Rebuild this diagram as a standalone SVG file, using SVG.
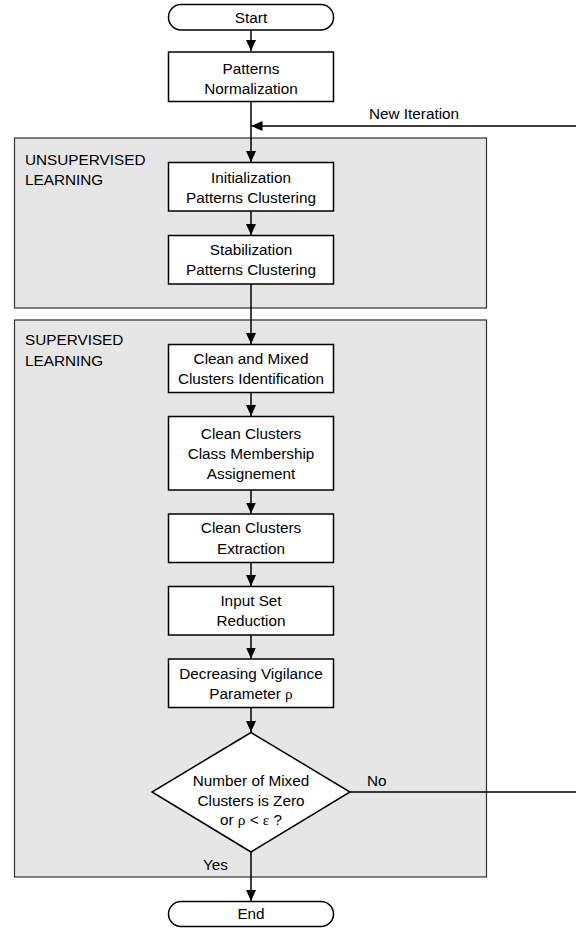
<svg xmlns="http://www.w3.org/2000/svg" width="576" height="928" viewBox="0 0 576 928">
<style>
text{font-family:"Liberation Sans",Arial,sans-serif;font-size:15.3px;fill:#000}
.c{text-anchor:middle}
.panel{fill:#e6e6e6;stroke:#333;stroke-width:1.2}
.box{fill:#fff;stroke:#000;stroke-width:1.5}
.conn{fill:none;stroke:#000;stroke-width:1.5}
.g{font-family:"Liberation Serif","Times New Roman",serif}
</style>
<defs>
<marker id="ah" markerUnits="userSpaceOnUse" markerWidth="12" markerHeight="12" viewBox="0 0 12 12" refX="11" refY="6" orient="auto">
<path d="M0,1 L11,6 L0,11 Z" fill="#000"/>
</marker>
</defs>
<g id="panel-unsupervised">
<rect class="panel" x="14.5" y="138" width="472" height="170"/>
<text x="25" y="165">UNSUPERVISED</text>
<text x="25" y="185">LEARNING</text>
</g>
<g id="panel-supervised">
<rect class="panel" x="14.5" y="320" width="472" height="557"/>
<text x="25" y="345">SUPERVISED</text>
<text x="25" y="366">LEARNING</text>
</g>
<g id="connectors">
<path class="conn" d="M251,30 V51" marker-end="url(#ah)"/>
<path class="conn" d="M251,101.5 V162" marker-end="url(#ah)"/>
<path class="conn" d="M251,211 V235" marker-end="url(#ah)"/>
<path class="conn" d="M251,284 V344" marker-end="url(#ah)"/>
<path class="conn" d="M251,392.5 V416" marker-end="url(#ah)"/>
<path class="conn" d="M251,490 V513.5" marker-end="url(#ah)"/>
<path class="conn" d="M251,562.5 V586" marker-end="url(#ah)"/>
<path class="conn" d="M251,635 V658.5" marker-end="url(#ah)"/>
<path class="conn" d="M251,707.5 V732" marker-end="url(#ah)"/>
<path class="conn" d="M251,852 V901" marker-end="url(#ah)"/>
<path class="conn" d="M350,792 H580 V126 H251.5" marker-end="url(#ah)"/>
<text x="414" y="119" class="c">New Iteration</text>
<text x="367" y="786">No</text>
<text x="203" y="870">Yes</text>
</g>
<g id="start">
<rect class="box" x="168.5" y="4.5" width="165" height="25.5" rx="12.5"/>
<text x="251" y="22.5" class="c">Start</text>
</g>
<g id="normalization">
<rect class="box" x="168.5" y="52" width="165" height="49.5"/>
<text x="251" y="74" class="c">Patterns</text>
<text x="251" y="94" class="c">Normalization</text>
</g>
<g id="initialization">
<rect class="box" x="168.5" y="162.5" width="165" height="48.5"/>
<text x="251" y="182.5" class="c">Initialization</text>
<text x="251" y="202.5" class="c">Patterns Clustering</text>
</g>
<g id="stabilization">
<rect class="box" x="168.5" y="235.5" width="165" height="48.5"/>
<text x="251" y="255" class="c">Stabilization</text>
<text x="251" y="275" class="c">Patterns Clustering</text>
</g>
<g id="identification">
<rect class="box" x="168.5" y="344.5" width="165" height="48"/>
<text x="251" y="363.5" class="c">Clean and Mixed</text>
<text x="251" y="383.5" class="c">Clusters Identification</text>
</g>
<g id="assignement">
<rect class="box" x="168.5" y="416.5" width="165" height="73.5"/>
<text x="251" y="438.5" class="c">Clean Clusters</text>
<text x="251" y="458.5" class="c">Class Membership</text>
<text x="251" y="478.5" class="c">Assignement</text>
</g>
<g id="extraction">
<rect class="box" x="168.5" y="514" width="165" height="48.5"/>
<text x="251" y="533" class="c">Clean Clusters</text>
<text x="251" y="553.5" class="c">Extraction</text>
</g>
<g id="reduction">
<rect class="box" x="168.5" y="586.5" width="165" height="48.5"/>
<text x="251" y="606" class="c">Input Set</text>
<text x="251" y="626" class="c">Reduction</text>
</g>
<g id="vigilance">
<rect class="box" x="168.5" y="659" width="165" height="48.5"/>
<text x="251" y="678.5" class="c">Decreasing Vigilance</text>
<text x="251" y="698.5" class="c">Parameter <tspan class="g">ρ</tspan></text>
</g>
<g id="decision">
<polygon class="box" points="251,732.5 350,792 251,852 152,792"/>
<text x="251" y="786" class="c">Number of Mixed</text>
<text x="251" y="805.5" class="c">Clusters is Zero</text>
<text x="251" y="825" class="c">or <tspan class="g">ρ</tspan> &lt; <tspan class="g">ε</tspan> ?</text>
</g>
<g id="end">
<rect class="box" x="168.5" y="901.5" width="165" height="25" rx="12.5"/>
<text x="251" y="918.5" class="c">End</text>
</g>
</svg>
